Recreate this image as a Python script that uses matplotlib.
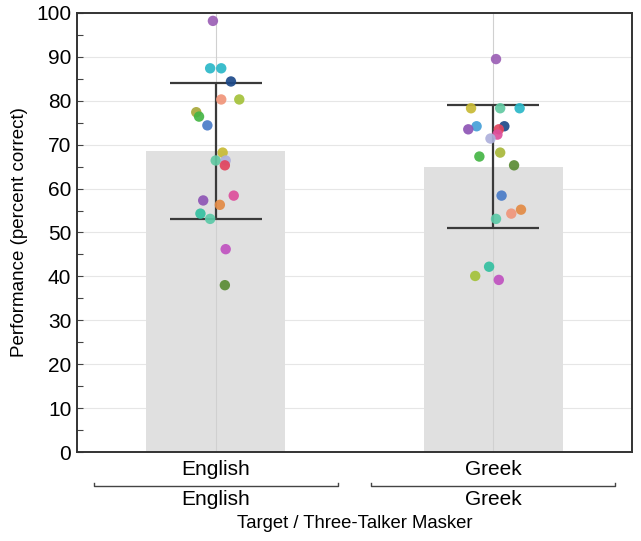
import numpy as np
import matplotlib
matplotlib.use('Agg')
import matplotlib.pyplot as plt
import matplotlib.transforms as mtransforms

plt.rcParams['font.family'] = ['Liberation Sans', 'DejaVu Sans']

# conditions
targets = ['English', 'Greek']
maskers = ['English', 'Greek']
means = [68.5, 65.0]
sds = [15.5, 14.0]

# individual listener scores
english_scores = [98.2, 87.4, 87.4, 84.4, 80.3, 80.3, 77.4, 76.4, 74.4, 68.2,
                  66.4, 66.4, 65.3, 58.4, 57.3, 56.3, 54.3, 53.1, 46.2, 38.0]
english_offsets = [-0.01, -0.02, 0.02, 0.055, 0.02, 0.085, -0.07, -0.06, -0.03, 0.025,
                   0.0, 0.036, 0.033, 0.065, -0.045, 0.015, -0.055, -0.02, 0.036, 0.033]
greek_scores = [89.5, 78.3, 78.3, 78.3, 74.2, 74.2, 73.5, 73.5, 72.3, 71.4,
                68.2, 67.3, 65.3, 58.4, 55.2, 54.3, 53.1, 42.2, 40.1, 39.2]
greek_offsets = [0.01, -0.08, 0.025, 0.095, -0.06, 0.04, -0.09, 0.02, 0.015, -0.01,
                 0.025, -0.05, 0.075, 0.03, 0.1, 0.065, 0.01, -0.015, -0.065, 0.02]

english_colors = ['#9b5fb5', '#2bb8c8', '#2bb8c8', '#1d4a8a', '#f0957a', '#a4c23a',
                  '#a8a83a', '#45b545', '#4a7cc8', '#c8ba35', '#62c9a2', '#aeb0dc',
                  '#e2455e', '#dd4f9c', '#8e55b5', '#e38b45', '#33c0a0', '#5ccaa8',
                  '#c052c0', '#5b8c35']
greek_colors = ['#9b5fb5', '#c8ba35', '#62c9a2', '#2bb8c8', '#45a0d8', '#1d4a8a',
                '#8e55b5', '#e2455e', '#dd4f9c', '#aeb0dc', '#a8b83a', '#45b545',
                '#5b8c35', '#4a7cc8', '#e38b45', '#f0957a', '#5ccaa8', '#33c0a0',
                '#a4c23a', '#c052c0']

fig = plt.figure(figsize=(6.41, 5.41), dpi=100)
ax = fig.add_axes([0.120, 0.1645, 0.866, 0.8115])

xpos = np.arange(1, len(targets) + 1)
ax.bar(xpos, means, width=0.5, color='#e0e0e0', zorder=1)
ax.errorbar(xpos, means, yerr=sds, fmt='none', ecolor='#3a3a3a', elinewidth=1.6,
            capsize=33, capthick=1.6, zorder=3)

ax.scatter(xpos[0] + np.array(english_offsets), english_scores, s=56,
           c=english_colors, alpha=0.92, linewidths=0, zorder=4)
ax.scatter(xpos[1] + np.array(greek_offsets), greek_scores, s=56,
           c=greek_colors, alpha=0.92, linewidths=0, zorder=4)

ax.set_xlim(0.5, 2.5)
ax.set_ylim(0, 100)
ax.set_yticks(np.arange(0, 101, 10))
ax.set_yticks(np.arange(5, 100, 10), minor=True)
ax.set_xticks([])
ax.grid(axis='y', color='#e6e6e6', linewidth=0.8, zorder=0)
for x in xpos:
    ax.axvline(x, color='#d0d0d0', linewidth=0.8, zorder=2)
ax.set_axisbelow(True)

ax.tick_params(axis='y', which='major', direction='in', length=4, width=0.8,
               labelsize=15, color='#444444', pad=4)
ax.tick_params(axis='y', which='minor', direction='in', length=4, width=0.8,
               color='#444444')
for sp in ax.spines.values():
    sp.set_linewidth(1.4)
    sp.set_color('#333333')

ax.set_ylabel('Performance (percent correct)', fontsize=13.5, labelpad=6)

# two-tier x labels
trans = mtransforms.blended_transform_factory(ax.transData, ax.transAxes)
for x, t, m in zip(xpos, targets, maskers):
    ax.text(x, -0.04, t, transform=trans, ha='center', va='center', fontsize=15)
    ax.plot([x - 0.44, x - 0.44, x + 0.44, x + 0.44], [-0.070, -0.078, -0.078, -0.070],
            transform=trans, color='#444444', linewidth=1.0, clip_on=False)
    ax.text(x, -0.108, m, transform=trans, ha='center', va='center', fontsize=15)
ax.text(0.5, -0.162, 'Target / Three-Talker Masker', transform=ax.transAxes,
        ha='center', va='center', fontsize=13.3)

fig.savefig('out.png', dpi=100)
